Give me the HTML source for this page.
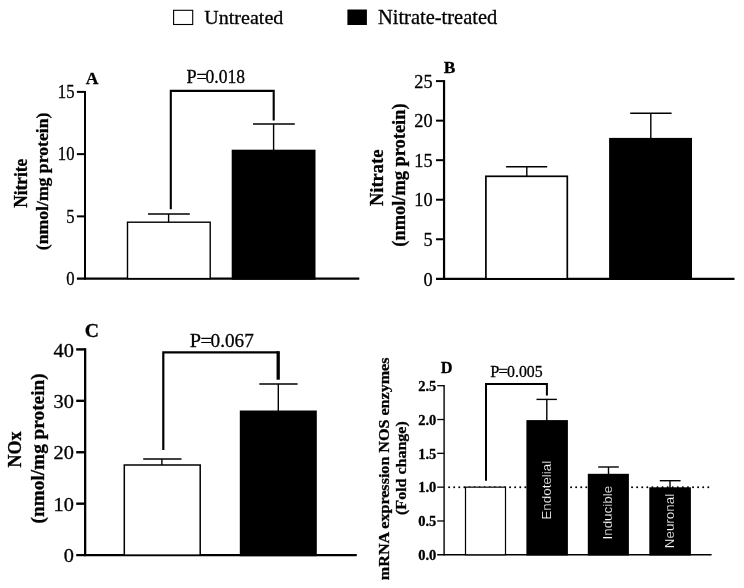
<!DOCTYPE html>
<html><head><meta charset="utf-8">
<style>
html,body{margin:0;padding:0;background:#fff;}
svg{display:block;will-change:transform;}
text{font-family:"Liberation Serif",serif;fill:#000;stroke:#000;stroke-width:0.3;}
.b{font-weight:bold;stroke-width:0.3;}
.s{font-family:"Liberation Sans",sans-serif;fill:#fff;stroke:#000;stroke-width:0.15;}
</style></head><body>
<svg width="744" height="588" viewBox="0 0 744 588">
<rect width="744" height="588" fill="#fff"/>
<rect x="173.6" y="10.3" width="19.1" height="14.2" fill="#fff" stroke="#000" stroke-width="1.1"/>
<text transform="translate(204.3,24.2) scale(1,0.97)" font-size="20.05">Untreated</text>
<rect x="347.4" y="9.5" width="19.5" height="15.5" fill="#000"/>
<text transform="translate(377.9,24.2) scale(1,0.98)" font-size="20.5">Nitrate-treated</text>
<g id="A">
<text class="b" x="85.8" y="83.8" font-size="17.6">A</text>
<line x1="85.0" y1="90.9" x2="85.0" y2="279.70000000000005" stroke="#000" stroke-width="2"/>
<line x1="76.9" y1="278.6" x2="359.3" y2="278.6" stroke="#000" stroke-width="2.2"/>
<line x1="76.9" y1="216.37" x2="85.0" y2="216.37" stroke="#000" stroke-width="2"/>
<line x1="76.9" y1="154.13" x2="85.0" y2="154.13" stroke="#000" stroke-width="2"/>
<line x1="76.9" y1="91.9" x2="85.0" y2="91.9" stroke="#000" stroke-width="2"/>
<text transform="translate(74.5,284.8) scale(0.91,1)" font-size="18.3" text-anchor="end">0</text>
<text transform="translate(74.5,222.57) scale(0.91,1)" font-size="18.3" text-anchor="end">5</text>
<text transform="translate(74.5,160.33) scale(0.91,1)" font-size="18.3" text-anchor="end">10</text>
<text transform="translate(74.5,98.1) scale(0.91,1)" font-size="18.3" text-anchor="end">15</text>
<line x1="168.6" y1="214" x2="168.6" y2="223" stroke="#000" stroke-width="1.4"/>
<line x1="148" y1="214" x2="189.8" y2="214" stroke="#000" stroke-width="1.4"/>
<rect x="127.5" y="222.2" width="82.7" height="56.40" fill="#fff" stroke="#000" stroke-width="1.4"/>
<line x1="273.6" y1="124" x2="273.6" y2="150" stroke="#000" stroke-width="1.4"/>
<line x1="253" y1="124" x2="294.8" y2="124" stroke="#000" stroke-width="1.4"/>
<rect x="231.7" y="149.7" width="83.8" height="130.00" fill="#000"/>
<polyline points="170.8,209.3 170.8,90.9 273.7,90.9 273.7,120.5" fill="none" stroke="#000" stroke-width="2.1"/>
<text y="82.9" font-size="18.2"><tspan x="186.4">P</tspan><tspan x="196.6">=</tspan><tspan x="205.6" textLength="39.5" lengthAdjust="spacingAndGlyphs">0.018</tspan></text>
<text class="b" transform="translate(26.6,183.3) rotate(-90) scale(1.0,1.08)" font-size="17.3" text-anchor="middle">Nitrite</text>
<text class="b" transform="translate(48.0,181.4) rotate(-90) scale(1.0,0.96)" font-size="17.7" text-anchor="middle">(nmol/mg protein)</text>
</g>
<g id="B">
<text class="b" x="443.8" y="72.9" font-size="17.4">B</text>
<line x1="444.05" y1="80.1" x2="444.05" y2="279.90000000000003" stroke="#000" stroke-width="2.2"/>
<line x1="436" y1="278.8" x2="734.5" y2="278.8" stroke="#000" stroke-width="2.2"/>
<line x1="436" y1="239.26" x2="444.05" y2="239.26" stroke="#000" stroke-width="2"/>
<line x1="436" y1="199.72" x2="444.05" y2="199.72" stroke="#000" stroke-width="2"/>
<line x1="436" y1="160.18" x2="444.05" y2="160.18" stroke="#000" stroke-width="2"/>
<line x1="436" y1="120.64" x2="444.05" y2="120.64" stroke="#000" stroke-width="2"/>
<line x1="436" y1="81.1" x2="444.05" y2="81.1" stroke="#000" stroke-width="2"/>
<text transform="translate(432.6,285.5) scale(1.0,1)" font-size="18.3" text-anchor="end">0</text>
<text transform="translate(432.6,245.96) scale(1.0,1)" font-size="18.3" text-anchor="end">5</text>
<text transform="translate(432.6,206.42) scale(1.0,1)" font-size="18.3" text-anchor="end">10</text>
<text transform="translate(432.6,166.88) scale(1.0,1)" font-size="18.3" text-anchor="end">15</text>
<text transform="translate(432.6,127.34) scale(1.0,1)" font-size="18.3" text-anchor="end">20</text>
<text transform="translate(432.6,87.8) scale(1.0,1)" font-size="18.3" text-anchor="end">25</text>
<line x1="526.8" y1="166.7" x2="526.8" y2="177" stroke="#000" stroke-width="1.4"/>
<line x1="506.1" y1="166.7" x2="547.2" y2="166.7" stroke="#000" stroke-width="1.4"/>
<rect x="485.9" y="176.3" width="81.4" height="102.50" fill="#fff" stroke="#000" stroke-width="1.7"/>
<line x1="650.8" y1="113.2" x2="650.8" y2="138.5" stroke="#000" stroke-width="1.4"/>
<line x1="630.2" y1="113.2" x2="671.6" y2="113.2" stroke="#000" stroke-width="1.4"/>
<rect x="609.1" y="137.9" width="82.9" height="142.00" fill="#000"/>
<text class="b" transform="translate(382.5,177.8) rotate(-90) scale(1.0,1.04)" font-size="18.5" text-anchor="middle">Nitrate</text>
<text class="b" transform="translate(404.7,175.1) rotate(-90) scale(1.0,1.0)" font-size="18.4" text-anchor="middle">(nmol/mg protein)</text>
</g>
<g id="C">
<text class="b" x="84.8" y="336.5" font-size="19.7">C</text>
<line x1="85.15" y1="348.2" x2="85.15" y2="556.2" stroke="#000" stroke-width="2.3"/>
<line x1="76.2" y1="555.1" x2="356.8" y2="555.1" stroke="#000" stroke-width="2.2"/>
<line x1="76.2" y1="503.68" x2="85.15" y2="503.68" stroke="#000" stroke-width="2.4"/>
<line x1="76.2" y1="452.25" x2="85.15" y2="452.25" stroke="#000" stroke-width="2.4"/>
<line x1="76.2" y1="400.82" x2="85.15" y2="400.82" stroke="#000" stroke-width="2.4"/>
<line x1="76.2" y1="349.4" x2="85.15" y2="349.4" stroke="#000" stroke-width="2.4"/>
<text transform="translate(73.8,562.2) scale(1.06,1)" font-size="19.2" text-anchor="end">0</text>
<text transform="translate(73.8,510.78) scale(1.06,1)" font-size="19.2" text-anchor="end">10</text>
<text transform="translate(73.8,459.35) scale(1.06,1)" font-size="19.2" text-anchor="end">20</text>
<text transform="translate(73.8,407.93) scale(1.06,1)" font-size="19.2" text-anchor="end">30</text>
<text transform="translate(73.8,356.5) scale(1.06,1)" font-size="19.2" text-anchor="end">40</text>
<line x1="161.9" y1="459" x2="161.9" y2="466" stroke="#000" stroke-width="1.4"/>
<line x1="143.2" y1="459" x2="181.5" y2="459" stroke="#000" stroke-width="1.5"/>
<rect x="124.3" y="465" width="75.9" height="90.10" fill="#fff" stroke="#000" stroke-width="1.5"/>
<line x1="278.3" y1="384" x2="278.3" y2="411" stroke="#000" stroke-width="1.4"/>
<line x1="259.3" y1="384" x2="297.6" y2="384" stroke="#000" stroke-width="1.4"/>
<rect x="239.8" y="410.5" width="77" height="145.70" fill="#000"/>
<polyline points="163.3,450.1 163.3,352.4 278.5,352.4" fill="none" stroke="#000" stroke-width="2.2"/>
<line x1="278.2" y1="351.2" x2="278.2" y2="379.7" stroke="#000" stroke-width="3.3"/>
<text transform="translate(0,347.2) scale(1,0.95)" font-size="20.3"><tspan x="189.8">P</tspan><tspan x="200.4">=</tspan><tspan x="210.6" textLength="43.2" lengthAdjust="spacingAndGlyphs">0.067</tspan></text>
<text class="b" transform="translate(20.8,449.5) rotate(-90) scale(1.0,1.06)" font-size="18.1" text-anchor="middle">NOx</text>
<text class="b" transform="translate(43.9,448.4) rotate(-90) scale(1.0,1.0)" font-size="19.3" text-anchor="middle">(nmol/mg protein)</text>
</g>
<g id="D">
<text class="b" x="440.8" y="372.9" font-size="16.3">D</text>
<line x1="444.1" y1="385.09999999999997" x2="444.1" y2="555.5" stroke="#000" stroke-width="1.4"/>
<line x1="437.2" y1="554.8" x2="711.6" y2="554.8" stroke="#000" stroke-width="1.5"/>
<line x1="437.2" y1="520.98" x2="444.1" y2="520.98" stroke="#000" stroke-width="1.3"/>
<line x1="437.2" y1="487.16" x2="444.1" y2="487.16" stroke="#000" stroke-width="1.3"/>
<line x1="437.2" y1="453.34" x2="444.1" y2="453.34" stroke="#000" stroke-width="1.3"/>
<line x1="437.2" y1="419.52" x2="444.1" y2="419.52" stroke="#000" stroke-width="1.3"/>
<line x1="437.2" y1="385.7" x2="444.1" y2="385.7" stroke="#000" stroke-width="1.3"/>
<text class="b" transform="translate(436.3,560.1) scale(1.0,1)" font-size="14.5" text-anchor="end">0.0</text>
<text class="b" transform="translate(436.3,526.28) scale(1.0,1)" font-size="14.5" text-anchor="end">0.5</text>
<text class="b" transform="translate(436.3,492.46) scale(1.0,1)" font-size="14.5" text-anchor="end">1.0</text>
<text class="b" transform="translate(436.3,458.64) scale(1.0,1)" font-size="14.5" text-anchor="end">1.5</text>
<text class="b" transform="translate(436.3,424.82) scale(1.0,1)" font-size="14.5" text-anchor="end">2.0</text>
<text class="b" transform="translate(436.3,391.0) scale(1.0,1)" font-size="14.5" text-anchor="end">2.5</text>
<line x1="449.1" y1="487.16" x2="708.7" y2="487.16" stroke="#000" stroke-width="2" stroke-linecap="round" stroke-dasharray="0.01 5.072"/>
<rect x="465.5" y="487.16" width="40" height="67.64" fill="#fff" stroke="#000" stroke-width="1.2"/>
<line x1="546.8" y1="399.4" x2="546.8" y2="421" stroke="#000" stroke-width="1.4"/>
<line x1="536.5" y1="399.4" x2="556.9" y2="399.4" stroke="#000" stroke-width="1.4"/>
<rect x="526.4" y="420.1" width="41.5" height="135.40" fill="#000"/>
<line x1="608.5" y1="467" x2="608.5" y2="474" stroke="#000" stroke-width="1.4"/>
<line x1="598.2" y1="467" x2="618.8" y2="467" stroke="#000" stroke-width="1.4"/>
<rect x="587.8" y="473.8" width="41.1" height="81.70" fill="#000"/>
<line x1="670" y1="480.7" x2="670" y2="488" stroke="#000" stroke-width="1.4"/>
<line x1="659.8" y1="480.7" x2="680.6" y2="480.7" stroke="#000" stroke-width="1.4"/>
<rect x="649.3" y="487.3" width="41.6" height="68.20" fill="#000"/>
<polyline points="486,480.8 486,383.9 546.9,383.9 546.9,395.6" fill="none" stroke="#000" stroke-width="2"/>
<text transform="translate(0,377.4) scale(1,0.96)" font-size="16.4"><tspan x="490.2">P</tspan><tspan x="498.6">=</tspan><tspan x="507.1" textLength="35.6" lengthAdjust="spacingAndGlyphs">0.005</tspan></text>
<text class="s" transform="translate(551.2,519.6) rotate(-90) scale(1.0,1.0)" font-size="13.4" text-anchor="start">Endotelial</text>
<text class="s" transform="translate(612.4,539.5) rotate(-90) scale(1.0,1.0)" font-size="13.4" text-anchor="start">Inducible</text>
<text class="s" transform="translate(674,548.2) rotate(-90) scale(1.0,1.0)" font-size="13.4" text-anchor="start">Neuronal</text>
<text class="b" transform="translate(388.9,468.8) rotate(-90) scale(1.0,0.95)" font-size="16.1" text-anchor="middle">mRNA expression NOS enzymes</text>
<text class="b" transform="translate(406.1,468.1) rotate(-90) scale(1.0,0.94)" font-size="16.0" text-anchor="middle">(Fold change)</text>
</g>
</svg>
</body></html>
